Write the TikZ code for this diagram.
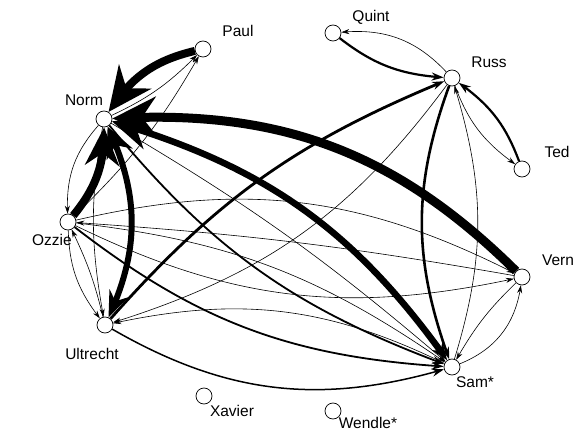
\documentclass[tikz,border=0pt]{standalone}
\usepackage{fontspec}
\setmainfont{Liberation Sans}
\usetikzlibrary{arrows.meta,bending}

\begin{document}
\begin{tikzpicture}[x=1pt,y=1pt,
        person/.style={circle,draw,fill=white,line width=0.7pt,minimum size=16pt,inner sep=0pt},
        tag/.style={font=\fontsize{15.5}{18}\selectfont,inner sep=0pt},
        tie/.style={line width=0.6pt,-{Stealth[length=8pt,width=5pt]}},
        firm/.style={line width=2.2pt,-{Stealth[length=12pt,width=8pt]}}]
    \useasboundingbox (0,0) rectangle (579,432);

    % people
    \node[person] (paul) at (203,383) {};
    \node[person] (quint) at (333,399) {};
    \node[person] (russ) at (452,354) {};
    \node[person] (ted) at (522,263) {};
    \node[person] (norm) at (104,313) {};
    \node[person] (ozzie) at (68,210) {};
    \node[person] (vern) at (522,155) {};
    \node[person] (ultrecht) at (105,107) {};
    \node[person] (sam) at (452,65) {};
    \node[person] (xavier) at (204,36) {};
    \node[person] (wendle) at (333,21) {};

    % names
    \node[tag] (paullab) at (238,401) {Paul};
    \node[tag] (quintlab) at (371,415) {Quint};
    \node[tag] (russlab) at (489,370) {Russ};
    \node[tag] (tedlab) at (557,280) {Ted};
    \node[tag] (normlab) at (84,332) {Norm};
    \node[tag] (ozzielab) at (52,192) {Ozzie};
    \node[tag] (vernlab) at (558,172) {Vern};
    \node[tag] (ultrechtlab) at (92,78) {Ultrecht};
    \node[tag] (samlab) at (475,50) {Sam*};
    \node[tag] (xavierlab) at (232,21) {Xavier};
    \node[tag] (wendlelab) at (368,9) {Wendle*};

    % thin ties
    \draw[tie] (norm) to[bend right=10] (paul);
    \draw[tie] (ozzie) to[bend right=8] (paul);
    \draw[tie] (norm) to[bend right=22] (ozzie);
    \draw[tie] (norm) to[bend right=10] (ultrecht);
    \draw[tie] (ozzie) to[bend right=18] (ultrecht);
    \draw[tie] (ultrecht) to[bend right=6] (ozzie);
    \draw[tie] (russ) to[bend right=26] (quint);
    \draw[tie] (russ) to[bend right=17] (ted);
    \draw[tie] (sam) to[bend right=17] (russ);
    \draw[tie] (vern) to[bend right=8] (sam);
    \draw[tie] (sam) to[bend right=30] (vern);
    \draw[tie] (ozzie) to[bend left=20] (vern);
    \draw[tie] (vern) to[bend right=3] (ozzie);
    \draw[tie] (ozzie) to[bend right=19] (vern);
    \draw[tie] (norm) to[bend left=5] (sam);
    \draw[tie] (russ) to[bend left=18] (ultrecht);
    \draw[tie] (sam) to[bend right=19] (ultrecht);
    \draw[tie] (ozzie) to[bend left=14] (sam);

    % firmer ties
    \draw[firm] (quint) to[bend right=17] (russ);
    \draw[firm] (ted) to[bend right=17] (russ);
    \draw[firm,line width=2.6pt] (russ) to[bend right=20] (sam);
    \draw[firm,line width=2.8pt] (ultrecht) to[bend left=13] (russ);
    \draw[firm,line width=1.8pt] (norm) to[bend right=15] (sam);
    \draw[firm,line width=1.8pt] (ozzie) to[bend right=17] (sam);
    \draw[firm,line width=1.5pt] (ultrecht) to[bend right=23] (sam);

    % heavy ties
    \draw[line width=8pt,-{Stealth[length=44pt,width=40pt]}] (paul) to[bend right=22] (norm);
    \draw[line width=9pt,-{Stealth[length=44pt,width=40pt]}] (vern) to[bend right=24] (norm);
    \draw[line width=6.5pt,{Stealth[length=38pt,width=34pt]}-{Stealth[length=17pt,width=13pt]}] (norm) to[bend left=19] (sam);
    \draw[line width=8pt,-{Stealth[length=38pt,width=34pt]}] (ozzie) to[bend right=20] (norm);
    \draw[line width=6pt,{Stealth[length=30pt,width=28pt]}-{Stealth[length=26pt,width=20pt]}] (norm) to[bend left=25] (ultrecht);
\end{tikzpicture}
\end{document}
